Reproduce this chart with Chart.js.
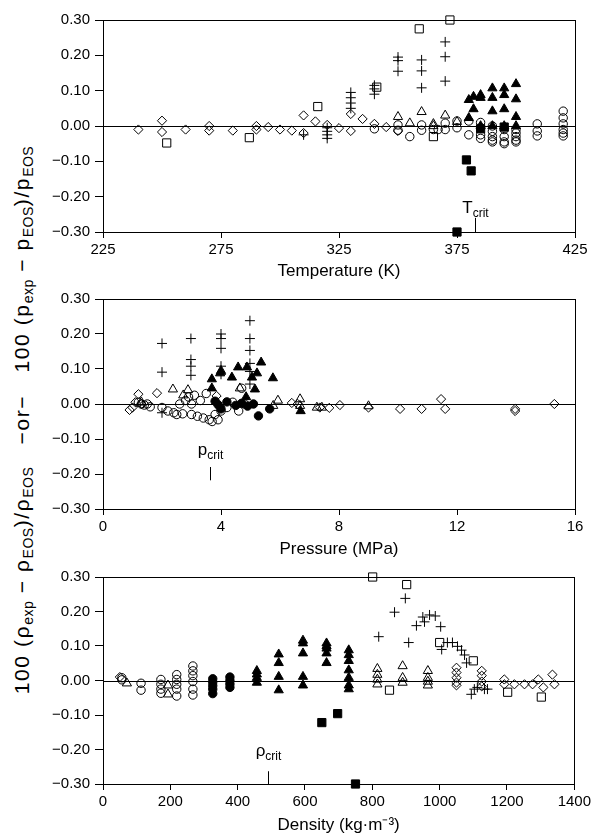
<!DOCTYPE html>
<html>
<head>
<meta charset="utf-8">
<script src="https://cdn.jsdelivr.net/npm/chart.js@4.4.1/dist/chart.umd.min.js"></script>
<style>
  body { margin: 0; background: #fff; }
  #wrap { position: relative; width: 594px; height: 836px; overflow: hidden; }
  .panel { position: absolute; left: 0; width: 594px; }
  #ylab {
    position: absolute; left: 22px; top: 420px; white-space: nowrap;
    transform: translate(-50%, -50%) rotate(-90deg);
    font: 21px "Liberation Sans", Arial, sans-serif; color: #000;
    letter-spacing: 1.6px;
  }
  #ylab sub { font-size: 14px; vertical-align: -4px; line-height: 0; letter-spacing: 0.5px; }
</style>
</head>
<body>
<div id="wrap">
  <div id="ylab">100 (ρ<sub>exp</sub> − ρ<sub>EOS</sub>)/ρ<sub>EOS</sub> &nbsp;&nbsp;−or−&nbsp;&nbsp; 100 (p<sub>exp</sub> − p<sub>EOS</sub>)/p<sub>EOS</sub></div>
  <div class="panel" style="top:0px"><canvas id="c1" width="594" height="285"></canvas></div>
  <div class="panel" style="top:285px"><canvas id="c2" width="594" height="278"></canvas></div>
  <div class="panel" style="top:563px"><canvas id="c3" width="594" height="273"></canvas></div>
</div>
<script>
// ===== Data: temperature panel [T (K), deviation %] =====
const tDiamond = [[240,-0.01],[250,0.015],[250,-0.017],[260,-0.01],[270,0.0],[270,-0.013],[280,-0.013],[290,0.0],[290,-0.01],[295,-0.003],[300,-0.01],[305,-0.013],[310,0.03],[310,-0.02],[315,0.013],[320,0.003],[325,-0.006],[330,0.034],[330,-0.014],[335,0.02],[340,0.006],[345,-0.003],[350,-0.014]];
const tSquare = [[252,-0.048],[287,-0.033],[316,0.055],[341,0.11],[359,0.275],[372,0.30],[365,-0.03]];
const tPlus = [[310,-0.025],[320,-0.005],[320,-0.015],[320,-0.025],[320,-0.035],[330,0.095],[330,0.08],[330,0.065],[330,0.05],[340,0.115],[340,0.105],[340,0.09],[350,0.195],[350,0.185],[350,0.155],[360,0.187],[360,0.156],[360,0.108],[370,0.238],[370,0.196],[370,0.127]];
const tTriangle = [[350,0.026],[355,0.008],[360,0.04],[365,0.006],[365,0.0],[370,0.03],[375,0.012]];
const tCircle = [[340,-0.008],[350,0.003],[350,-0.012],[355,-0.03],[360,0.003],[360,-0.012],[365,-0.01],[367,-0.01],[370,0.008],[370,-0.01],[375,0.014],[375,-0.005],[380,0.014],[380,-0.025],[385,0.01],[385,-0.005],[385,-0.025],[385,-0.035],[390,0.0],[390,-0.015],[390,-0.03],[390,-0.04],[390,-0.045],[395,-0.01],[395,-0.03],[395,-0.045],[395,-0.05],[400,-0.01],[400,-0.02],[400,-0.03],[400,-0.04],[400,-0.045],[409,0.006],[409,-0.014],[409,-0.028],[420,0.042],[420,0.023],[420,0.006],[420,-0.01],[420,-0.02],[420,-0.028]];
const tTriangleFilled = [[380,0.074],[380,0.023],[382,0.083],[382,0.048],[385,0.088],[385,0.08],[385,0.0],[390,0.107],[390,0.08],[390,0.042],[390,0.0],[395,0.107],[395,0.088],[395,0.048],[395,0.0],[400,0.119],[400,0.076],[400,0.026],[400,0.0]];
const tSquareFilled = [[379,-0.096],[381,-0.127],[375,-0.30],[385,-0.008],[395,-0.003]];

// ===== Data: pressure panel [p (MPa), deviation %] =====
const pDiamond = [[0.9,-0.017],[1.0,-0.01],[1.1,0.005],[1.2,0.028],[1.3,0.0],[1.83,0.031],[3.85,0.023],[6.4,0.003],[6.6,0.0],[7.35,-0.01],[7.67,-0.011],[8.03,-0.003],[9.0,-0.01],[10.07,-0.014],[10.8,-0.014],[11.46,0.014],[11.6,-0.014],[13.97,-0.014],[13.97,-0.02],[15.3,0.0]];
const pPlus = [[2.0,0.173],[2.0,0.091],[2.0,-0.025],[2.98,0.187],[2.98,0.127],[2.98,0.108],[2.98,0.082],[4.0,0.2],[4.0,0.187],[4.0,0.159],[4.0,0.108],[4.0,0.085],[4.98,0.238],[4.98,0.187],[4.98,0.153],[4.98,0.116],[4.98,0.093],[4.98,0.057]];
const pTriangle = [[1.3,0.005],[2.37,0.042],[2.72,0.025],[2.88,0.04],[4.64,0.045],[5.77,-0.005],[5.93,0.01],[6.68,0.014],[6.68,-0.005],[7.25,-0.01],[7.42,-0.01],[9.0,-0.006]];
const pCircle = [[1.2,0.005],[1.3,0.0],[1.4,-0.003],[1.5,0.0],[1.6,-0.008],[2.0,-0.01],[2.2,-0.02],[2.4,-0.025],[2.5,-0.03],[2.6,0.0],[2.7,-0.028],[2.8,0.01],[2.9,0.02],[3.0,-0.03],[3.0,0.0],[3.1,0.025],[3.2,-0.035],[3.3,0.01],[3.4,-0.04],[3.5,0.03],[3.6,-0.045],[3.7,-0.05],[3.8,-0.03],[3.9,-0.045],[4.0,-0.02],[4.2,-0.01],[4.4,0.005],[4.6,-0.02],[4.7,0.045],[4.8,0.0]];
const pTriangleFilled = [[3.69,0.071],[3.69,0.045],[3.97,0.088],[4.0,0.095],[4.37,0.076],[4.58,0.105],[4.85,0.02],[4.88,0.105],[5.05,0.076],[5.15,0.042],[5.22,0.088],[5.36,0.119],[5.76,0.074],[6.7,-0.02]];
const pCircleFilled = [[3.8,0.008],[3.9,-0.002],[4.0,-0.014],[4.2,0.006],[4.5,-0.004],[4.7,0.002],[4.9,-0.006],[5.1,0.0],[5.27,-0.034],[5.65,-0.014]];

// ===== Data: density panel [rho (kg/m3), deviation %] =====
const dDiamond = [[50,0.01],[1050,0.037],[1050,0.023],[1050,0.008],[1050,-0.006],[1050,-0.014],[1125,0.028],[1125,0.014],[1125,-0.003],[1125,-0.017],[1192,0.003],[1192,-0.011],[1222,-0.011],[1252,-0.011],[1276,-0.011],[1293,0.003],[1308,-0.02],[1335,0.017],[1341,-0.011]];
const dSquare = [[801,0.30],[851,-0.028],[902,0.278],[1000,0.11],[1100,0.057],[1202,-0.034],[1302,-0.048]];
const dPlus = [[819,0.127],[866,0.198],[898,0.238],[908,0.11],[931,0.159],[950,0.184],[955,0.17],[970,0.19],[987,0.187],[1003,0.156],[1006,0.09],[1023,0.11],[1038,0.11],[1053,0.099],[1065,0.088],[1074,0.074],[1080,0.051],[1094,-0.04],[1103,-0.025],[1112,-0.02],[1133,-0.025],[1142,-0.025]];
const dTriangle = [[71,-0.008],[193,-0.014],[193,-0.04],[815,0.034],[815,0.017],[815,0.003],[815,-0.011],[890,0.042],[890,0.008],[890,-0.006],[965,0.028],[965,0.008],[965,-0.003],[965,-0.014]];
const dCircle = [[56,0.008],[56,0.002],[113,-0.008],[113,-0.028],[172,0.003],[172,-0.011],[172,-0.025],[172,-0.037],[219,0.017],[219,0.003],[219,-0.011],[219,-0.025],[219,-0.045],[267,0.042],[267,0.028],[267,0.014],[267,-0.003],[267,-0.025],[267,-0.042]];
const dCircleFilled = [[326,0.005],[326,-0.005],[326,-0.015],[326,-0.025],[326,-0.038],[377,0.01],[377,0.0],[377,-0.01],[377,-0.02]];
const dTriangleFilled = [[457,0.028],[457,0.018],[457,0.008],[457,-0.006],[522,0.076],[522,0.051],[522,0.011],[522,-0.028],[594,0.116],[594,0.108],[594,0.079],[594,0.011],[594,-0.014],[664,0.108],[664,0.1],[664,0.093],[664,0.079],[664,0.051],[730,0.088],[730,0.074],[730,0.057],[730,0.03],[730,0.008],[730,-0.014],[730,-0.025]];
const dSquareFilled = [[650,-0.122],[697,-0.096],[750,-0.30]];

// ===== Axis ticks / critical points =====
const yTicks = [-0.3, -0.2, -0.1, 0, 0.1, 0.2, 0.3];
const tTicks = [225, 275, 325, 375, 425];
const pTicks = [0, 4, 8, 12, 16];
const dTicks = [0, 200, 400, 600, 800, 1000, 1200, 1400];
const Tcrit = 382.51;
const pcrit = 3.635;
const rhocrit = 489.2;

// ===== Marker styles =====
const FONT = '"Liberation Sans", Arial, sans-serif';
const styles = {
  diamond: { pointStyle: 'rectRot', radius: 4.6, fill: false },
  square: { pointStyle: 'rect', radius: 5.8, fill: false },
  plus: { pointStyle: 'cross', radius: 5, fill: false },
  tri: { pointStyle: 'triangle', radius: 5.3, fill: false },
  circle: { pointStyle: 'circle', radius: 4.2, fill: false },
  triF: { pointStyle: 'triangle', radius: 5.3, fill: true },
  circleF: { pointStyle: 'circle', radius: 4.2, fill: true },
  squareF: { pointStyle: 'rect', radius: 5.8, fill: true }
};

function ds(points, key) {
  const s = styles[key];
  return {
    data: points.map(p => ({ x: p[0], y: p[1] })),
    pointStyle: s.pointStyle,
    pointRadius: s.radius,
    pointHoverRadius: s.radius,
    pointBorderWidth: 1,
    borderColor: '#000',
    pointBorderColor: '#000',
    pointBackgroundColor: s.fill ? '#000' : 'rgba(0,0,0,0)',
    showLine: false,
    clip: false
  };
}

function fmtY(v) {
  if (Math.abs(v) < 1e-9) return '0.00';
  return v.toFixed(2).replace('-', '\u2212');
}

// ===== Plugins =====
const framePlugin = {
  id: 'frame',
  beforeDatasetsDraw(chart) {
    const { ctx, chartArea: a, scales } = chart;
    ctx.save();
    ctx.strokeStyle = '#000';
    ctx.lineWidth = 1;
    ctx.strokeRect(Math.round(a.left) + 0.5, Math.round(a.top) + 0.5,
      Math.round(a.right - a.left), Math.round(a.bottom - a.top));
    const y0 = Math.round(scales.y.getPixelForValue(0)) + 0.5;
    ctx.beginPath();
    ctx.moveTo(a.left, y0);
    ctx.lineTo(a.right, y0);
    ctx.stroke();
    ctx.restore();
  }
};

const critPlugin = {
  id: 'crit',
  afterDatasetsDraw(chart, args, o) {
    if (!o || o.value == null) return;
    const { ctx, scales: { x, y } } = chart;
    const px = Math.round(x.getPixelForValue(o.value)) + 0.5;
    ctx.save();
    ctx.strokeStyle = '#000';
    ctx.lineWidth = 1;
    ctx.beginPath();
    ctx.moveTo(px, y.getPixelForValue(o.tickFrom));
    ctx.lineTo(px, y.getPixelForValue(o.tickTo));
    ctx.stroke();
    const base = y.getPixelForValue(o.textAt);
    ctx.fillStyle = '#000';
    ctx.textBaseline = 'alphabetic';
    ctx.font = '17px ' + FONT;
    const w1 = ctx.measureText(o.main).width;
    ctx.font = '12px ' + FONT;
    const w2 = ctx.measureText('crit').width;
    const x0 = px - (w1 + w2) / 2;
    ctx.font = '17px ' + FONT;
    ctx.fillText(o.main, x0, base);
    ctx.font = '12px ' + FONT;
    ctx.fillText('crit', x0 + w1, base + 4);
    ctx.restore();
  }
};

// ===== Panel builder =====
function panel(id, sets, xOpt, crit, padTop, axisH, titlePad) {
  const ctx = document.getElementById(id).getContext('2d');
  return new Chart(ctx, {
    type: 'scatter',
    data: { datasets: sets },
    plugins: [framePlugin, critPlugin],
    options: {
      responsive: false,
      animation: false,
      events: [],
      layout: { padding: { left: 0, right: 19, top: padTop, bottom: 0 } },
      plugins: { legend: { display: false }, tooltip: { enabled: false }, crit },
      scales: {
        x: {
          type: 'linear',
          min: xOpt.ticks[0],
          max: xOpt.ticks[xOpt.ticks.length - 1],
          afterBuildTicks: s => { s.ticks = xOpt.ticks.map(v => ({ value: v })); },
          afterFit: s => { s.height = axisH; },
          grid: { drawOnChartArea: false, tickLength: 6, color: '#000', tickColor: '#000' },
          border: { display: true, color: '#000' },
          ticks: { color: '#000', padding: 3, maxRotation: 0, callback: v => String(v), font: { family: FONT, size: 15 } },
          title: {
            display: true, text: xOpt.title, color: '#000',
            padding: { top: 0, bottom: titlePad },
            font: { family: FONT, size: 17 }
          }
        },
        y: {
          type: 'linear',
          min: -0.3,
          max: 0.3,
          afterBuildTicks: s => { s.ticks = yTicks.map(v => ({ value: v })); },
          afterFit: s => { s.width = 103; },
          grid: { drawOnChartArea: false, tickLength: 8, color: '#000', tickColor: '#000' },
          border: { display: true, color: '#000' },
          ticks: { color: '#000', padding: 5, callback: v => fmtY(v), font: { family: FONT, size: 15 } }
        }
      }
    }
  });
}

// ===== Render =====
panel('c1', [
  ds(tDiamond, 'diamond'), ds(tSquare, 'square'), ds(tPlus, 'plus'),
  ds(tTriangle, 'tri'), ds(tCircle, 'circle'),
  ds(tTriangleFilled, 'triF'), ds(tSquareFilled, 'squareF')
], { ticks: tTicks, title: 'Temperature (K)' },
  { value: Tcrit, main: 'T', tickFrom: -0.30, tickTo: -0.26, textAt: -0.246 }, 20, 53, 3);

panel('c2', [
  ds(pDiamond, 'diamond'), ds(pPlus, 'plus'), ds(pTriangle, 'tri'),
  ds(pCircle, 'circle'), ds(pTriangleFilled, 'triF'), ds(pCircleFilled, 'circleF')
], { ticks: pTicks, title: 'Pressure (MPa)' },
  { value: pcrit, main: 'p', tickFrom: -0.218, tickTo: -0.18, textAt: -0.147 }, 12, 54, 3);

panel('c3', [
  ds(dDiamond, 'diamond'), ds(dSquare, 'square'), ds(dPlus, 'plus'),
  ds(dTriangle, 'tri'), ds(dCircle, 'circle'), ds(dCircleFilled, 'circleF'),
  ds(dTriangleFilled, 'triF'), ds(dSquareFilled, 'squareF')
], { ticks: dTicks, title: 'Density (kg\u00b7m\u207b\u00b3)' },
  { value: rhocrit, main: '\u03c1', tickFrom: -0.30, tickTo: -0.263, textAt: -0.218 }, 9, 52, 0);
</script>
</body>
</html>
